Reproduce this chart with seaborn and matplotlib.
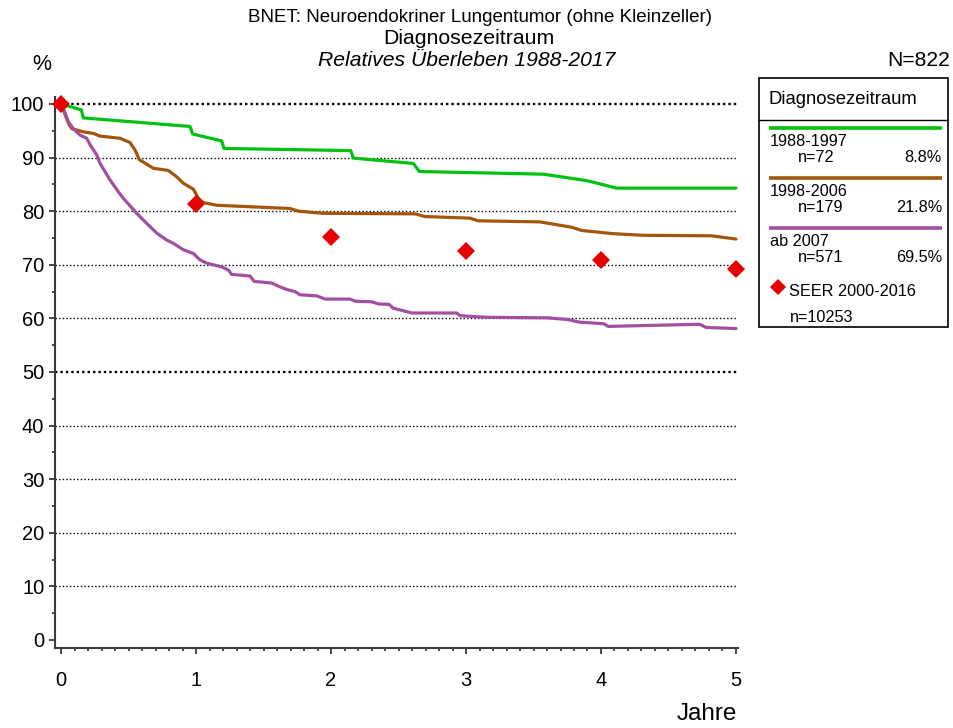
import numpy as np
import pandas as pd
import matplotlib
matplotlib.use("Agg")
import matplotlib.pyplot as plt
from matplotlib.patches import Rectangle
from matplotlib.ticker import MultipleLocator
import seaborn as sns

# Relative survival curves by period of diagnosis (years after diagnosis, %)
t_1988 = [0, 0.15, 0.165, 0.956, 0.975, 1.19, 1.207, 2.146, 2.166, 2.61, 2.654,
          3.573, 3.894, 4.116, 5.0]
s_1988 = [100, 98.9, 97.4, 95.8, 94.4, 93.1, 91.7, 91.3, 89.9, 88.9, 87.4,
          86.9, 85.7, 84.3, 84.3]

t_1998 = [0, 0.054, 0.079, 0.165, 0.24, 0.289, 0.437, 0.511, 0.548, 0.58, 0.684,
          0.795, 0.857, 0.906, 0.98, 1.017, 1.054, 1.153, 1.696, 1.758, 1.943,
          2.622, 2.696, 3.03, 3.09, 3.548, 3.783, 3.857, 4.09, 4.31, 4.82, 5.0]
s_1998 = [100, 96.4, 95.4, 94.8, 94.5, 94.0, 93.6, 92.8, 91.4, 89.6, 88.0,
          87.6, 86.4, 85.2, 84.1, 82.4, 81.6, 81.1, 80.5, 80.0, 79.6,
          79.5, 79.0, 78.7, 78.2, 78.0, 77.0, 76.4, 75.8, 75.5, 75.4, 74.8]

t_2007 = [0, 0.03, 0.054, 0.09, 0.14, 0.19, 0.215, 0.264, 0.289, 0.363, 0.425,
          0.461, 0.56, 0.635, 0.709, 0.783, 0.832, 0.906, 0.98, 1.03, 1.079,
          1.19, 1.24, 1.264, 1.4, 1.43, 1.56, 1.61, 1.67, 1.733, 1.77, 1.894,
          1.956, 2.14, 2.18, 2.30, 2.35, 2.43, 2.46, 2.6, 2.93, 2.956, 3.15,
          3.6, 3.75, 3.84, 4.02, 4.054, 4.73, 4.78, 5.0]
s_2007 = [100, 98.3, 96.7, 95.4, 94.2, 93.6, 92.4, 90.5, 88.9, 85.8, 83.6,
          82.4, 79.6, 77.7, 75.9, 74.6, 74.0, 72.8, 72.1, 70.9, 70.3,
          69.6, 69.0, 68.2, 67.9, 66.9, 66.6, 66.0, 65.4, 65.0, 64.4, 64.2,
          63.6, 63.6, 63.2, 63.1, 62.7, 62.6, 61.9, 61.0, 61.0, 60.5, 60.2,
          60.1, 59.8, 59.3, 59.0, 58.5, 58.9, 58.3, 58.1]

# SEER reference values
seer_t = [0, 1, 2, 3, 4, 5]
seer_s = [100, 81.3, 75.2, 72.6, 70.9, 69.2]

groups = ["1988-1997", "1998-2006", "ab 2007"]
group_n = ["n=72", "n=179", "n=571"]
group_pct = ["8.8%", "21.8%", "69.5%"]
colors = ["#00C010", "#A3550C", "#A24FA0"]
seer_color = "#E60000"

sns.set_theme(style="white")
plt.rcParams["font.family"] = ["Liberation Sans", "DejaVu Sans"]
plt.rcParams["text.color"] = "black"
plt.rcParams["xtick.color"] = "#3a3a3a"
plt.rcParams["ytick.color"] = "#3a3a3a"
plt.rcParams["xtick.labelcolor"] = "black"
plt.rcParams["ytick.labelcolor"] = "black"

df = pd.concat([
    pd.DataFrame({"Jahre": t_1988, "Ueberleben": s_1988, "Gruppe": groups[0]}),
    pd.DataFrame({"Jahre": t_1998, "Ueberleben": s_1998, "Gruppe": groups[1]}),
    pd.DataFrame({"Jahre": t_2007, "Ueberleben": s_2007, "Gruppe": groups[2]}),
], ignore_index=True)
seer = pd.DataFrame({"Jahre": seer_t, "Ueberleben": seer_s})

fig = plt.figure(figsize=(9.54, 7.28), dpi=100)
ax = fig.add_axes([55 / 954, 80 / 728, 683 / 954, 551 / 728])

# dotted reference lines
for yv in range(10, 101, 10):
    heavy = yv in (50, 100)
    ax.axhline(yv, color="black", lw=1.7 if heavy else 1.0,
               linestyle=(0, (1, 1.3)) if heavy else (0, (1, 1.6)), zorder=1)

sns.lineplot(data=df, x="Jahre", y="Ueberleben", hue="Gruppe", hue_order=groups,
             palette=colors, estimator=None, sort=False, lw=2.3, legend=False,
             ax=ax, zorder=3)
ax.plot(seer["Jahre"], seer["Ueberleben"], linestyle="none", marker="D",
        markersize=9.0, color=seer_color, markeredgewidth=0, zorder=4,
        clip_on=False)

ax.set_xlim(-0.045, 5.015)
ax.set_ylim(-1.5, 101.3)
ax.xaxis.set_major_locator(MultipleLocator(1))
ax.xaxis.set_minor_locator(MultipleLocator(0.1))
ax.yaxis.set_major_locator(MultipleLocator(10))
ax.yaxis.set_minor_locator(MultipleLocator(5))
for s in ["top", "right"]:
    ax.spines[s].set_visible(False)
for s in ["left", "bottom"]:
    ax.spines[s].set_color("#3a3a3a")
    ax.spines[s].set_linewidth(1.5)
ax.tick_params(axis="both", which="both", direction="out", width=1.3,
               bottom=True, left=True, top=False, right=False)
ax.tick_params(axis="y", which="major", length=4.2, pad=3.5, labelsize=14.5)
ax.tick_params(axis="y", which="minor", length=2.4)
ax.tick_params(axis="x", which="major", length=4.2, pad=12, labelsize=14.5)
ax.tick_params(axis="x", which="minor", length=2.4)
ax.set_xlabel("")
ax.set_ylabel("")

# titles and annotations in pixel coordinates
ov = fig.add_axes([0, 0, 1, 1], zorder=5)
ov.set_xlim(0, 954)
ov.set_ylim(728, 0)
ov.axis("off")
ov.patch.set_alpha(0)

ov.text(480, 18, "BNET: Neuroendokriner Lungentumor (ohne Kleinzeller)",
        ha="center", va="center", fontsize=13.5)
ov.text(469, 39, "Diagnosezeitraum", ha="center", va="center", fontsize=15.3)
ov.text(467, 61, "Relatives Überleben 1988-2017", ha="center", va="center",
        fontsize=15.2, style="italic")
ov.text(950, 61, "N=822", ha="right", va="center", fontsize=15.2)
ov.text(42, 65, "%", ha="center", va="center", fontsize=15.5)
ov.text(737, 714, "Jahre", ha="right", va="center", fontsize=17.5)

# legend box
ov.add_patch(Rectangle((759, 78), 189, 249, fill=False, edgecolor="black", lw=1.2))
ov.plot([759, 948], [120, 120], color="black", lw=1.0)
ov.text(769, 99, "Diagnosezeitraum", ha="left", va="center", fontsize=13.3)
row_y = [128, 178, 228]
for ly, name, n, pct, col in zip(row_y, groups, group_n, group_pct, colors):
    ov.plot([769, 942], [ly, ly], color=col, lw=2.6, solid_capstyle="butt")
    ov.text(770, ly + 14, name, ha="left", va="center", fontsize=11.7)
    ov.text(798, ly + 29, n, ha="left", va="center", fontsize=11.7)
    ov.text(942, ly + 29, pct, ha="right", va="center", fontsize=11.7)
ov.plot([778], [287], linestyle="none", marker="D", markersize=8.5,
        color=seer_color, markeredgewidth=0)
ov.text(789, 292, "SEER 2000-2016", ha="left", va="center", fontsize=11.7)
ov.text(790, 317, "n=10253", ha="left", va="center", fontsize=11.7)

fig.savefig("out.png", dpi=100)
